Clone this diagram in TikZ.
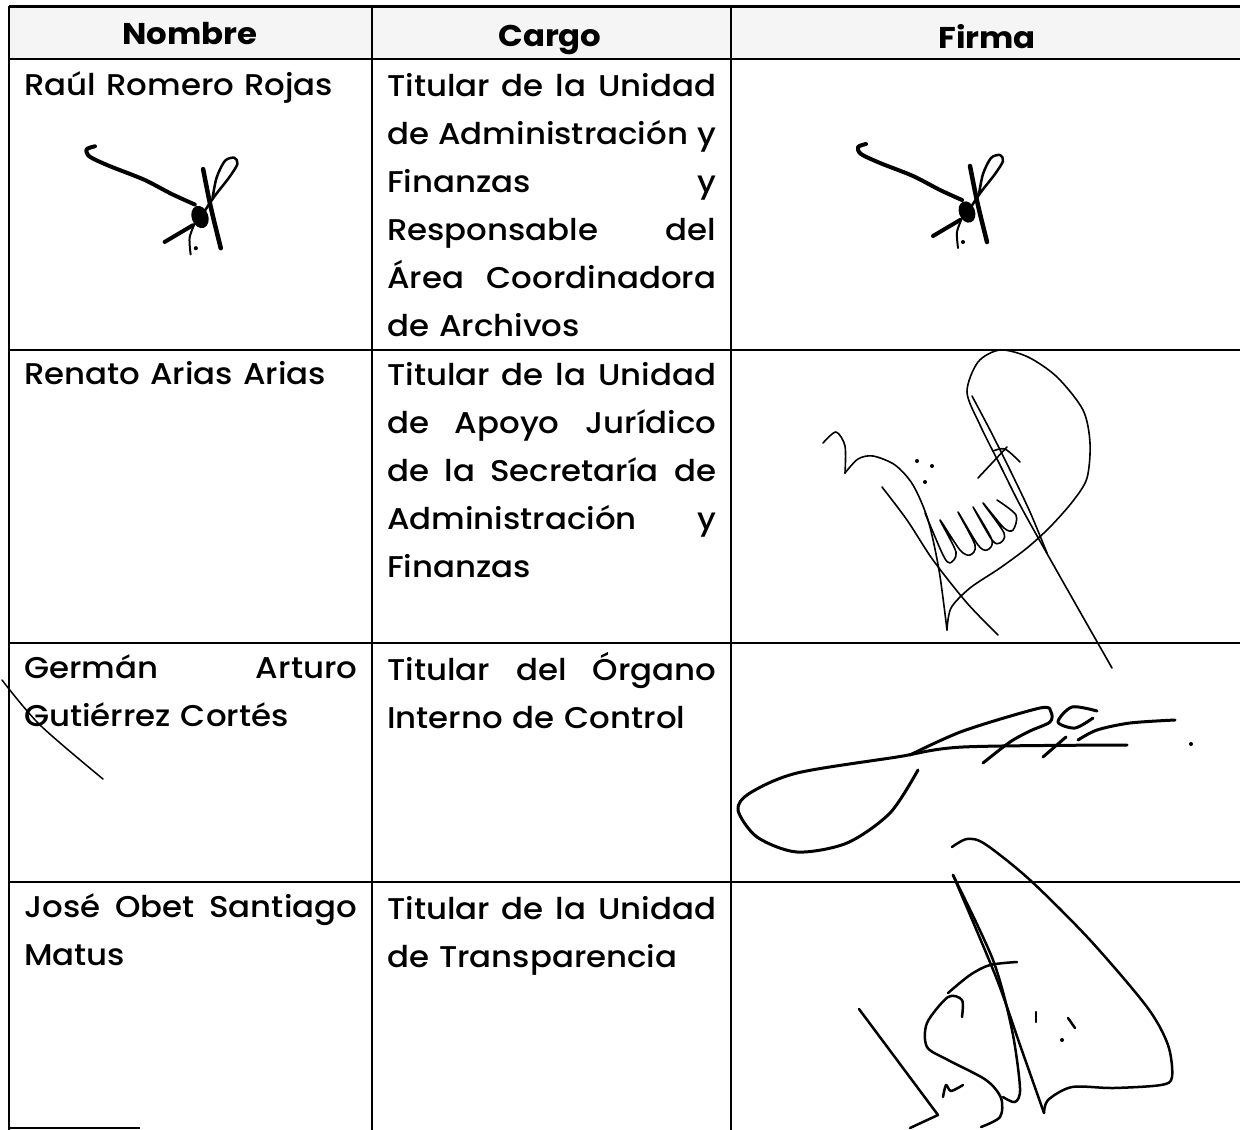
\documentclass[tikz,border=0pt]{standalone}
\usepackage{fontspec}
\setmainfont{Poppins}[UprightFont=* Medium, BoldFont=* Bold, FakeStretch=1.08]
\newcommand{\cuerpo}{\fontsize{30}{48}\selectfont}
\newcommand{\jus}[2]{\makebox[#1][s]{#2}}

\begin{document}
\begin{tikzpicture}[x=1pt,y=-1pt,
  linea/.style={line width=2pt},
  celda/.style={anchor=base west, inner sep=0pt, align=left, text width=#1, font=\cuerpo},
  enc/.style={anchor=base, inner sep=0pt, font=\cuerpo\bfseries},
  trazo/.style={line width=#1, line cap=round, line join=round},
  firmaraul/.pic={
    \draw[trazo=4pt] plot[smooth] coordinates {(-101,-68) (-109,-65) (-106,-58) (-87,-49) (-54,-36) (-27,-22) (-5,-12)};
    \fill[rotate=20] (0,0) ellipse (8pt and 11pt);
    \draw[trazo=4pt] (-34,24) -- (-7,8);
    \draw[trazo=4.5pt] (3,-46) .. controls (10,-10) .. (20,30);
    \draw[trazo=2.5pt] plot[smooth] coordinates {(2,-2) (14,-20) (28,-38) (36,-51) (33,-57) (24,-54) (16,-38) (12,-18)};
    \draw[trazo=2pt] plot[smooth] coordinates {(-5,6) (-10,20) (-9,36)};
    \fill (-4,30) circle (2pt);
  }]
\fill[white] (0,0) rectangle (1240,1130);
\useasboundingbox (0,0) rectangle (1240,1130);

% tabla
\fill[black!4] (9,6) rectangle (1240,59);
\draw[line width=3pt] (9,6) -- (1240,6);
\draw[linea] (9,59) -- (1240,59);
\draw[linea] (9,350) -- (1240,350);
\draw[linea] (9,643) -- (1240,643);
\draw[linea] (9,882) -- (1240,882);
\draw[linea] (9,6) -- (9,1130);
\draw[linea] (372,6) -- (372,1130);
\draw[linea] (731,6) -- (731,1130);
\draw[linea] (9,1128) -- (140,1128);

% encabezado
\node[enc] (hnombre) at (190,44) {Nombre};
\node[enc] (hcargo) at (550,46) {Cargo};
\node[enc] (hfirma) at (987,48) {Firma};

% nombres
\node[celda=333pt] (n1) at (24,95) {Raúl Romero Rojas};
\node[celda=333pt] (n2) at (24,384) {Renato Arias Arias};
\node[celda=333pt] (n3) at (24,678) {\jus{333pt}{Germán\hfill Arturo}\\ Gutiérrez Cortés};
\node[celda=333pt] (n4) at (24,917) {\jus{333pt}{José\hfill Obet\hfill Santiago}\\ Matus};

% cargos
\node[celda=329pt] (c1) at (387,96) {\jus{329pt}{Titular\hfill de\hfill la\hfill Unidad}\\ \jus{329pt}{de\hfill Administración\hfill y}\\ \jus{329pt}{Finanzas\hfill y}\\ \jus{329pt}{Responsable\hfill del}\\ \jus{329pt}{Área\hfill Coordinadora}\\ de Archivos};
\node[celda=329pt] (c2) at (387,385) {\jus{329pt}{Titular\hfill de\hfill la\hfill Unidad}\\ \jus{329pt}{de\hfill Apoyo\hfill Jurídico}\\ \jus{329pt}{de\hfill la\hfill Secretaría\hfill de}\\ \jus{329pt}{Administración\hfill y}\\ Finanzas};
\node[celda=329pt] (c3) at (387,680) {\jus{329pt}{Titular\hfill del\hfill Órgano}\\ Interno de Control};
\node[celda=329pt] (c4) at (387,919) {\jus{329pt}{Titular\hfill de\hfill la\hfill Unidad}\\ de Transparencia};

% firma 1
\pic[scale=1.04] at (200,217) {firmaraul};
\pic at (967,212) {firmaraul};

% firma 2
\draw[trazo=1.6pt] plot[smooth] coordinates {(823,443) (836,432) (845,446) (845,473)};
\draw[trazo=1.6pt] plot[smooth] coordinates {(845,473) (858,459) (873,456) (895,465) (913,485) (928,520) (939,570) (947,630)};
\draw[trazo=1.6pt] plot[smooth] coordinates {(947,630) (951,608) (970,588) (1000,568) (1027,548) (1050,527) (1073,501) (1087,478) (1090,443) (1083,410) (1057,377) (1028,357) (1000,350) (978,362) (967,392) (980,425) (1000,465) (1020,505) (1045,550) (1075,603) (1112,668)};
\draw[trazo=1.6pt] plot[smooth] coordinates {(972,396) (990,430) (1010,470) (1030,512) (1047,553)};
\draw[trazo=1.6pt] plot[smooth] coordinates {(882,487) (907,520) (933,560) (967,603) (998,635)};
\draw[trazo=1.6pt] plot[smooth, tension=0.5] coordinates {(925,513) (943,555) (950,563) (956,552) (940,520) (960,550) (970,555) (975,545) (958,512) (978,545) (987,550) (992,540) (973,507) (992,540) (1000,543) (1004,533) (983,503) (1004,528) (1013,530) (1016,515) (997,500)};
\draw[trazo=1.6pt] (978,478) -- (1007,447);
\draw[trazo=1.6pt] plot[smooth] coordinates {(993,451) (1005,449) (1020,462)};
\fill (917,461) circle (2pt);
\fill (932,466) circle (2pt);
\fill (925,482) circle (2pt);

% firma 3
\draw[trazo=1.5pt] plot[smooth] coordinates {(2,680) (40,725) (103,779)};
\draw[trazo=3pt] plot[smooth] coordinates {(918,770) (890,813) (847,843) (797,852) (757,837) (738,810) (750,793) (797,773) (897,757) (963,747) (1127,745)};
\draw[trazo=3pt] plot[smooth] coordinates {(910,755) (963,731) (1040,708) (1051,712) (1050,722) (1030,731) (1010,742) (983,763)};
\draw[trazo=3pt] plot[smooth] coordinates {(1097,711) (1072,707) (1058,722) (1075,728) (1093,718)};
\draw[trazo=3pt] (1066,737) -- (1043,757);
\draw[trazo=3pt] plot[smooth] coordinates {(1078,740) (1097,730) (1130,723) (1175,720)};
\fill (1191,744) circle (2pt);

% firma 4
\draw[trazo=2.5pt] plot[smooth] coordinates {(952,847) (967,839) (985,844) (1030,880) (1090,940) (1147,1007) (1168,1045) (1172,1077) (1161,1085) (1113,1088) (1072,1087) (1048,1100) (1044,1113)};
\draw[trazo=2.5pt] plot[smooth] coordinates {(1044,1113) (1020,1045) (996,977) (953,875)};
\draw[trazo=2.5pt] plot[smooth] coordinates {(953,875) (993,960) (1012,1030) (1020,1088) (1015,1102) (1003,1097)};
\draw[trazo=2.5pt] plot[smooth] coordinates {(948,993) (970,975) (990,965) (1017,962)};
\draw[trazo=2.5pt] plot[smooth] coordinates {(962,1017) (962,1000) (948,997) (927,1023) (927,1047) (948,1060) (986,1080) (1001,1098) (1000,1117) (981,1127)};
\draw[trazo=2.5pt] plot[smooth] coordinates {(943,1097) (946,1085) (951,1091) (963,1085)};
\draw[trazo=2.5pt] (859,1009) -- (938,1115) -- (910,1128);
\draw[trazo=2.5pt] (1036,1012) -- (1036,1022);
\draw[trazo=2.5pt] (1068,1018) -- (1075,1028);
\fill (1062,1040) circle (2pt);
\end{tikzpicture}
\end{document}
